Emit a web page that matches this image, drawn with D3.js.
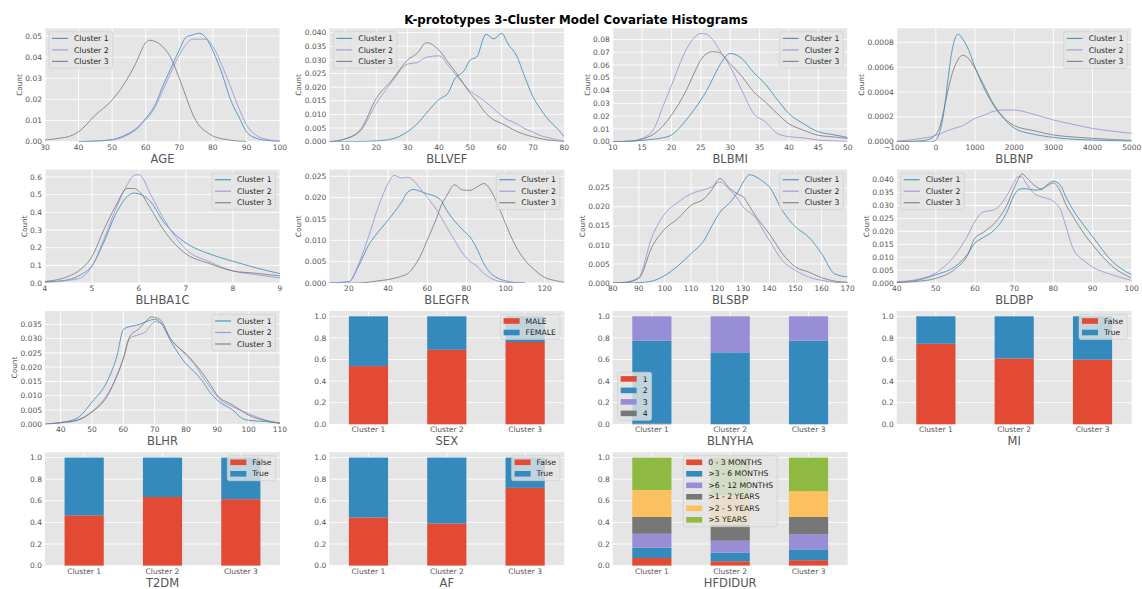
<!DOCTYPE html>
<html><head><meta charset="utf-8">
<script src="https://cdn.jsdelivr.net/npm/d3@7"></script>
<style>body{margin:0;background:#fff;} text{font-family:"DejaVu Sans",sans-serif;}</style>
</head><body><svg id="c" width="1142" height="589"></svg>
<script>
const clusters = ["Cluster 1", "Cluster 2", "Cluster 3"];
const lineColors = ["#348ABD", "#988ED5", "#777777"];
const barColors = ["#E24A33", "#348ABD", "#988ED5", "#777777", "#FBC15E", "#8EBA42"];

// ---------- KDE data ----------
const AGE_x  = [30,35,37,40,45,50,55,57,60,61,63,65,67,70,72,74,76,78,80,83,85,88,90,93,95,100];
const AGE_c1 = [null,null,null,0,0.0003,0.001,0.004,0.006,0.011,0.013,0.018,0.026,0.033,0.0434,0.0494,0.0505,0.0513,0.049,0.043,0.031,0.021,0.011,0.0047,0.0016,0.0008,0.0002];
const AGE_c2 = [null,null,null,0,0.0003,0.0008,0.0035,0.0055,0.0105,0.012,0.017,0.024,0.031,0.041,0.046,0.0485,0.0485,0.0485,0.045,0.035,0.027,0.015,0.008,0.003,0.0015,0.0003];
const AGE_c3 = [0.0008,0.0018,0.0024,0.0047,0.0126,0.0197,0.031,0.037,0.0468,0.048,0.0473,0.045,0.041,0.030,0.0213,0.013,0.0075,0.0047,0.0027,0.0013,0.0008,0.0002,0.0001,null,null,null];
const AGE_xt = [30,40,50,60,70,80,90,100];
const AGE_yt = [0,0.01,0.02,0.03,0.04,0.05];

const BLLVEF_x  = [5,10,15,20,25,30,33,36,40,43,45,48,50,52,55,57.5,60,62,65,67,70,73,75,78,80];
const BLLVEF_c1 = [0,0,0.0001,0.0003,0.001,0.0037,0.0065,0.0105,0.0155,0.018,0.023,0.026,0.030,0.031,0.0394,0.0377,0.0398,0.036,0.031,0.025,0.0165,0.011,0.008,0.0045,0.0018];
const BLLVEF_c2 = [0,0.001,0.004,0.014,0.022,0.0285,0.029,0.031,0.0315,0.028,0.025,0.021,0.0185,0.017,0.0145,0.012,0.0095,0.008,0.0065,0.005,0.0035,0.002,0.0015,0.0006,0.0003];
const BLLVEF_c3 = [0,0.001,0.0045,0.0159,0.0226,0.030,0.0324,0.0363,0.0336,0.029,0.026,0.021,0.0177,0.015,0.0104,0.008,0.0067,0.0055,0.0037,0.0028,0.0018,0.001,0.0006,0.0002,0];
const BLLVEF_xt = [10,20,30,40,50,60,70,80];
const BLLVEF_yt = [0,0.005,0.01,0.015,0.02,0.025,0.03,0.035,0.04];

const BLBMI_x  = [10,13,15,17,18.5,20,22.5,24,25,26,27,28,30,32,34,36,38,40,42.5,45,47.5,50];
const BLBMI_c1 = [0,0.0002,0.001,0.002,0.003,0.0052,0.017,0.026,0.0326,0.040,0.049,0.058,0.069,0.065,0.054,0.045,0.033,0.022,0.014,0.0078,0.0055,0.0034];
const BLBMI_c2 = [0,0.0005,0.0026,0.010,0.027,0.044,0.072,0.082,0.0847,0.084,0.080,0.073,0.0586,0.040,0.022,0.0156,0.0065,0.0039,0.003,0.0013,0.0006,0.0002];
const BLBMI_c3 = [0,0.0005,0.002,0.006,0.012,0.0208,0.040,0.055,0.064,0.069,0.0704,0.070,0.061,0.051,0.039,0.031,0.022,0.014,0.009,0.005,0.0038,0.0025];
const BLBMI_xt = [10,15,20,25,30,35,40,45,50];
const BLBMI_yt = [0,0.01,0.02,0.03,0.04,0.05,0.06,0.07,0.08];

const BLBNP_x  = [-1000,-500,-300,-100,0,100,200,300,400,500,550,600,700,800,1000,1200,1500,1750,2000,2500,3000,3500,4000,4500,5000];
const BLBNP_c1 = [0,0,0,0,0.000013,0.00008,0.00023,0.00048,0.00071,0.00084,0.000865,0.00086,0.00082,0.000765,0.0006,0.00045,0.00028,0.00018,0.00011,0.00006,0.000035,0.00002,0.000013,0.000008,0.000005];
const BLBNP_c2 = [0.000005,0.00002,0.00003,0.00004,0.000054,0.00006,0.000075,0.00009,0.0001,0.00011,0.000115,0.00012,0.00013,0.00015,0.000188,0.00021,0.000247,0.000255,0.000255,0.00022,0.000175,0.00014,0.000107,0.000085,0.000067];
const BLBNP_c3 = [0,0.000005,0.00001,0.00003,0.00006,0.00012,0.00025,0.0004,0.00053,0.00062,0.00065,0.00068,0.000695,0.00068,0.00059,0.00047,0.00029,0.00019,0.00013,0.000089,0.000054,0.000038,0.000027,0.000018,0.00001];
const BLBNP_xt = [-1000,0,1000,2000,3000,4000,5000];
const BLBNP_yt = [0,0.0002,0.0004,0.0006,0.0008];

const BLHBA1C_x  = [4,4.25,4.5,4.75,5,5.25,5.5,5.75,5.9,6,6.25,6.5,6.75,7,7.5,8,8.5,9];
const BLHBA1C_c1 = [0.006,0.01,0.019,0.045,0.098,0.23,0.387,0.49,0.509,0.505,0.46,0.355,0.28,0.226,0.165,0.123,0.085,0.053];
const BLHBA1C_c2 = [0.005,0.008,0.015,0.028,0.094,0.245,0.415,0.557,0.61,0.613,0.50,0.375,0.27,0.19,0.12,0.068,0.047,0.028];
const BLHBA1C_c3 = [0.009,0.018,0.038,0.075,0.15,0.30,0.434,0.535,0.535,0.519,0.42,0.31,0.225,0.165,0.11,0.068,0.055,0.04];
const BLHBA1C_xt = [4,5,6,7,8,9];
const BLHBA1C_yt = [0,0.1,0.2,0.3,0.4,0.5,0.6];

const BLEGFR_x  = [10,20,25,30,35,40,43,47,50,53,57,60,65,67,70,74,78,82,85,89,92,95,100,105,110,115,120,125,130];
const BLEGFR_c1 = [0,0.0003,0.004,0.0088,0.012,0.0147,0.0165,0.019,0.0213,0.0219,0.0214,0.0209,0.0201,0.0194,0.017,0.0145,0.0125,0.0107,0.0084,0.0045,0.0025,0.0014,0.0005,0.0001,0,null,null,null,null];
const BLEGFR_c2 = [0,0.0003,0.0045,0.0108,0.0178,0.0233,0.0252,0.0246,0.0248,0.0240,0.0218,0.0201,0.017,0.0155,0.0131,0.010,0.007,0.005,0.0041,0.0022,0.0013,0.0006,0.0002,0.0001,0,null,null,null,null];
const BLEGFR_c3 = [null,0,0,0.0002,0.0005,0.0008,0.0011,0.0016,0.0022,0.0037,0.0068,0.010,0.0155,0.018,0.0205,0.023,0.0218,0.0217,0.0224,0.0233,0.022,0.0194,0.0139,0.0088,0.0053,0.003,0.0013,0.0006,0.0002];
const BLEGFR_xt = [20,40,60,80,100,120];
const BLEGFR_yt = [0,0.005,0.01,0.015,0.02,0.025];

const BLSBP_x  = [80,85,90,95,100,105,110,115,118,121,125,128,130,132.5,135,137,140,145,150,155,160,165,170];
const BLSBP_c1 = [0,0,0.0001,0.0005,0.002,0.0045,0.0077,0.0112,0.015,0.0185,0.0212,0.024,0.0265,0.0284,0.0278,0.0269,0.0252,0.019,0.0147,0.0121,0.0077,0.0024,0.0016];
const BLSBP_c2 = [0,0.0002,0.0015,0.012,0.0182,0.0212,0.0234,0.0245,0.0252,0.0265,0.0243,0.022,0.0199,0.0185,0.0169,0.0145,0.0112,0.0059,0.0033,0.0016,0.0007,0.0002,0];
const BLSBP_c3 = [0,0.0002,0.0012,0.0094,0.0142,0.0169,0.0204,0.0221,0.0245,0.0274,0.0247,0.0233,0.0226,0.020,0.0173,0.0155,0.0129,0.0077,0.0042,0.0029,0.0014,0.0005,0.0002];
const BLSBP_xt = [80,90,100,110,120,130,140,150,160,170];
const BLSBP_yt = [0,0.005,0.01,0.015,0.02,0.025];

const BLDBP_x  = [40,45,50,55,58,60,62,65,68,70,71,72,73,75,77,78,80,82,83,85,88,90,95,100];
const BLDBP_c1 = [0.0003,0.001,0.0032,0.0065,0.011,0.0155,0.0175,0.0206,0.027,0.034,0.036,0.0365,0.0365,0.036,0.0362,0.0375,0.0394,0.0374,0.034,0.0284,0.0219,0.018,0.0084,0.0032];
const BLDBP_c2 = [0.0005,0.0013,0.0039,0.011,0.018,0.0239,0.0274,0.0284,0.0335,0.039,0.0413,0.041,0.0387,0.0348,0.0333,0.0329,0.0316,0.0277,0.023,0.0135,0.0084,0.0062,0.0032,0.001];
const BLDBP_c3 = [0.0002,0.0006,0.0018,0.0055,0.0105,0.0174,0.0195,0.0232,0.0297,0.0368,0.040,0.0423,0.041,0.038,0.0364,0.0372,0.0387,0.0348,0.031,0.0258,0.0187,0.0148,0.0065,0.0019];
const BLDBP_xt = [40,50,60,70,80,90,100];
const BLDBP_yt = [0,0.005,0.01,0.015,0.02,0.025,0.03,0.035,0.04];

const BLHR_x  = [35,40,45,50,55,58,60,62,65,67,69,70,72,75,78,80,83,85,88,90,95,98,100,105,110];
const BLHR_c1 = [0,0.0006,0.002,0.0078,0.0154,0.0241,0.0332,0.0342,0.0349,0.0358,0.0366,0.0367,0.0355,0.0294,0.0241,0.0212,0.018,0.0154,0.0107,0.0084,0.0049,0.002,0.0014,0.001,0.0004];
const BLHR_c2 = [0,0.0005,0.0012,0.0045,0.0107,0.0171,0.023,0.030,0.0314,0.0323,0.035,0.036,0.0352,0.030,0.0265,0.0241,0.0206,0.0171,0.0125,0.0096,0.0061,0.0046,0.0037,0.0016,0.0004];
const BLHR_c3 = [0,0.0006,0.0014,0.0043,0.0101,0.0171,0.023,0.0306,0.0335,0.0358,0.0376,0.0374,0.0364,0.030,0.0265,0.0247,0.021,0.0183,0.0135,0.0102,0.0067,0.0045,0.0032,0.0014,0.0004];
const BLHR_xt = [40,50,60,70,80,90,100,110];
const BLHR_yt = [0,0.005,0.01,0.015,0.02,0.025,0.03,0.035];

// ---------- stacked bar data (proportions per cluster) ----------
const BAR_yt = [0,0.2,0.4,0.6,0.8,1.0];
const SEX_labels = ["MALE", "FEMALE"];
const SEX_MALE   = [0.539, 0.69, 0.762];
const SEX_FEMALE = [0.461, 0.31, 0.238];
const BLNYHA_labels = ["1", "2", "3", "4"];
const BLNYHA_1 = [0.005, 0, 0];
const BLNYHA_2 = [0.769, 0.666, 0.774];
const BLNYHA_3 = [0.226, 0.331, 0.226];
const BLNYHA_4 = [0, 0.003, 0];
const MI_labels = ["False", "True"];
const MI_False = [0.746, 0.61, 0.598];
const MI_True  = [0.254, 0.39, 0.402];
const T2DM_labels = ["False", "True"];
const T2DM_False = [0.465, 0.635, 0.615];
const T2DM_True  = [0.535, 0.365, 0.385];
const AF_labels = ["False", "True"];
const AF_False = [0.445, 0.39, 0.72];
const AF_True  = [0.555, 0.61, 0.28];
const HFDIDUR_labels = ["0 - 3 MONTHS", ">3 - 6 MONTHS", ">6 - 12 MONTHS", ">1 - 2 YEARS", ">2 - 5 YEARS", ">5 YEARS"];
const HFDIDUR_0_3M  = [0.07, 0.04, 0.05];
const HFDIDUR_3_6M  = [0.095, 0.08, 0.10];
const HFDIDUR_6_12M = [0.13, 0.11, 0.14];
const HFDIDUR_1_2Y  = [0.155, 0.15, 0.16];
const HFDIDUR_2_5Y  = [0.25, 0.27, 0.24];
const HFDIDUR_5Y    = [0.30, 0.35, 0.31];

// ---------- layout ----------
const colLeft = [45, 329.3, 612.7, 896.7];
const rowTop = [28.3, 169.6, 310.9, 452.2];
const PW = 235, PH = 113.4;
const TICK_FS = 7.5, LEG_FS = 7.7, XLAB_FS = 11.5, YLAB_FS = 7.3;

const svg = d3.select("#c");
svg.append("rect").attr("width", 1142).attr("height", 589).attr("fill", "#fff");
svg.append("text").attr("x", 576).attr("y", 24).attr("text-anchor", "middle")
  .attr("font-size", 11.8).attr("font-weight", "bold").attr("fill", "#000")
  .text("K-prototypes 3-Cluster Model Covariate Histograms");

const kdePanels = [
  {name:"AGE", x:AGE_x, ys:[AGE_c1,AGE_c2,AGE_c3], xd:[30,100], ymax:0.05364, xt:AGE_xt, yt:AGE_yt, fmt:".2f", leg:"ul"},
  {name:"BLLVEF", x:BLLVEF_x, ys:[BLLVEF_c1,BLLVEF_c2,BLLVEF_c3], xd:[5,80], ymax:0.0416, xt:BLLVEF_xt, yt:BLLVEF_yt, fmt:".3f", leg:"ul"},
  {name:"BLBMI", x:BLBMI_x, ys:[BLBMI_c1,BLBMI_c2,BLBMI_c3], xd:[10,50], ymax:0.0887, xt:BLBMI_xt, yt:BLBMI_yt, fmt:".2f", leg:"ur"},
  {name:"BLBNP", x:BLBNP_x, ys:[BLBNP_c1,BLBNP_c2,BLBNP_c3], xd:[-1000,5000], ymax:0.000913, xt:BLBNP_xt, yt:BLBNP_yt, fmt:".4f", leg:"ur"},
  {name:"BLHBA1C", x:BLHBA1C_x, ys:[BLHBA1C_c1,BLHBA1C_c2,BLHBA1C_c3], xd:[4,9], ymax:0.642, xt:BLHBA1C_xt, yt:BLHBA1C_yt, fmt:".1f", leg:"ur"},
  {name:"BLEGFR", x:BLEGFR_x, ys:[BLEGFR_c1,BLEGFR_c2,BLEGFR_c3], xd:[10,130], ymax:0.02657, xt:BLEGFR_xt, yt:BLEGFR_yt, fmt:".3f", leg:"ur"},
  {name:"BLSBP", x:BLSBP_x, ys:[BLSBP_c1,BLSBP_c2,BLSBP_c3], xd:[80,170], ymax:0.02975, xt:BLSBP_xt, yt:BLSBP_yt, fmt:".3f", leg:"ur"},
  {name:"BLDBP", x:BLDBP_x, ys:[BLDBP_c1,BLDBP_c2,BLDBP_c3], xd:[40,100], ymax:0.0439, xt:BLDBP_xt, yt:BLDBP_yt, fmt:".3f", leg:"ul"},
  {name:"BLHR", x:BLHR_x, ys:[BLHR_c1,BLHR_c2,BLHR_c3], xd:[35,110], ymax:0.0397, xt:BLHR_xt, yt:BLHR_yt, fmt:".3f", leg:"ur"}
];
const barPanels = [
  {name:"SEX", labels:SEX_labels, vals:[SEX_MALE, SEX_FEMALE], leg:"ur"},
  {name:"BLNYHA", labels:BLNYHA_labels, vals:[BLNYHA_1,BLNYHA_2,BLNYHA_3,BLNYHA_4], leg:"ll"},
  {name:"MI", labels:MI_labels, vals:[MI_False, MI_True], leg:"ur"},
  {name:"T2DM", labels:T2DM_labels, vals:[T2DM_False, T2DM_True], leg:"ur"},
  {name:"AF", labels:AF_labels, vals:[AF_False, AF_True], leg:"ur"},
  {name:"HFDIDUR", labels:HFDIDUR_labels, vals:[HFDIDUR_0_3M,HFDIDUR_3_6M,HFDIDUR_6_12M,HFDIDUR_1_2Y,HFDIDUR_2_5Y,HFDIDUR_5Y], leg:"uc"}
];

function measure(txt, fs) {
  const t = svg.append("text").attr("font-size", fs).text(txt);
  const w = t.node().getComputedTextLength(); t.remove(); return w;
}
function fmtTick(f, v) { return d3.format(f)(v).replace("-", "\u2212"); }

function frame(idx) {
  const r = Math.floor(idx / 4), c = idx % 4;
  const L = colLeft[c], T = rowTop[r];
  const g = svg.append("g");
  g.append("rect").attr("x", L).attr("y", T).attr("width", PW).attr("height", PH).attr("fill", "#E5E5E5");
  return {g, L, T, R: L + PW, B: T + PH};
}

function yAxisTicks(f, y, ticks, fmt, withLabel) {
  let maxW = 0;
  ticks.forEach(v => {
    const s = fmtTick(fmt, v);
    f.g.append("line").attr("x1", f.L).attr("x2", f.R).attr("y1", y(v)).attr("y2", y(v))
      .attr("stroke", "#fff").attr("stroke-width", 0.9);
    const t = f.g.append("text").attr("x", f.L - 3).attr("y", y(v)).attr("dy", "0.35em")
      .attr("text-anchor", "end").attr("font-size", TICK_FS).attr("fill", "#555").text(s);
    maxW = Math.max(maxW, t.node().getComputedTextLength());
  });
  if (withLabel) {
    const cx = f.L - 3 - maxW - 6, cy = (f.T + f.B) / 2;
    f.g.append("text").attr("transform", `translate(${cx},${cy}) rotate(-90)`).attr("dy", "0.35em")
      .attr("text-anchor", "middle").attr("font-size", YLAB_FS).attr("fill", "#555").text("Count");
  }
}

function legend(f, items, loc, kind) {
  const textW = d3.max(items, d => measure(d.label, LEG_FS));
  const w = 25 + textW + 4, rowH = 11.5, h = rowH * items.length + 2;
  let x, y;
  if (loc === "ul") { x = f.L + 4; y = f.T + 3.5; }
  else if (loc === "ur") { x = f.R - 4.4 - w; y = f.T + 3.5; }
  else if (loc === "ll") { x = f.L + 5; y = f.B - 4 - h; }
  else { x = (f.L + f.R) / 2 - w / 2; y = f.T + 3.5; }
  const lg = f.g.append("g");
  lg.append("rect").attr("x", x).attr("y", y).attr("width", w).attr("height", h).attr("rx", 2)
    .attr("fill", "#E5E5E5").attr("fill-opacity", 0.8).attr("stroke", "#cccccc").attr("stroke-opacity", 0.8).attr("stroke-width", 0.8);
  items.forEach((d, i) => {
    const cy = y + 6.6 + rowH * i;
    if (kind === "line") {
      lg.append("line").attr("x1", x + 3).attr("x2", x + 19).attr("y1", cy).attr("y2", cy)
        .attr("stroke", d.color).attr("stroke-width", 1.2).attr("stroke-opacity", 0.85);
    } else {
      lg.append("rect").attr("x", x + 3).attr("y", cy - 2.8).attr("width", 16).attr("height", 5.6).attr("fill", d.color);
    }
    lg.append("text").attr("x", x + 25).attr("y", cy).attr("dy", "0.35em").attr("font-size", LEG_FS)
      .attr("fill", "#222").text(d.label);
  });
}

kdePanels.forEach((p, idx) => {
  const f = frame(idx);
  const x = d3.scaleLinear().domain(p.xd).range([f.L, f.R]);
  const y = d3.scaleLinear().domain([0, p.ymax]).range([f.B, f.T]);
  p.xt.forEach(v => {
    f.g.append("line").attr("x1", x(v)).attr("x2", x(v)).attr("y1", f.T).attr("y2", f.B)
      .attr("stroke", "#fff").attr("stroke-width", 0.9);
    f.g.append("text").attr("x", x(v)).attr("y", f.B + 8).attr("text-anchor", "middle")
      .attr("font-size", TICK_FS).attr("fill", "#555").text(fmtTick("d", v));
  });
  yAxisTicks(f, y, p.yt, p.fmt, true);
  const clipId = "clip" + idx;
  f.g.append("clipPath").attr("id", clipId).append("rect").attr("x", f.L).attr("y", f.T).attr("width", PW).attr("height", PH);
  const line = d3.line().defined(d => d[1] != null).x(d => x(d[0])).y(d => y(d[1])).curve(d3.curveMonotoneX);
  p.ys.forEach((ys, k) => {
    const pts = p.x.map((xv, i) => [xv, ys[i]]);
    f.g.append("path").attr("clip-path", `url(#${clipId})`).attr("d", line(pts))
      .attr("fill", "none").attr("stroke", lineColors[k]).attr("stroke-width", 0.95).attr("stroke-opacity", 0.85);
  });
  f.g.append("text").attr("x", (f.L + f.R) / 2).attr("y", f.B + 21).attr("text-anchor", "middle")
    .attr("font-size", XLAB_FS).attr("fill", "#555").text(p.name);
  legend(f, clusters.map((c, k) => ({label: c, color: lineColors[k]})), p.leg, "line");
});

barPanels.forEach((p, j) => {
  const f = frame(9 + j);
  const x = d3.scaleLinear().domain([-0.5, 2.5]).range([f.L, f.R]);
  const y = d3.scaleLinear().domain([0, 1.05]).range([f.B, f.T]);
  clusters.forEach((c, i) => {
    f.g.append("line").attr("x1", x(i)).attr("x2", x(i)).attr("y1", f.T).attr("y2", f.B)
      .attr("stroke", "#fff").attr("stroke-width", 0.9);
    f.g.append("text").attr("x", x(i)).attr("y", f.B + 8).attr("text-anchor", "middle")
      .attr("font-size", TICK_FS).attr("fill", "#555").text(c);
  });
  yAxisTicks(f, y, BAR_yt, ".1f", false);
  const rows = clusters.map((c, i) => { const o = {}; p.labels.forEach((l, k) => o[l] = p.vals[k][i]); return o; });
  const stack = d3.stack().keys(p.labels)(rows);
  stack.forEach((s, k) => {
    s.forEach((d, i) => {
      if (d[1] - d[0] <= 0) return;
      f.g.append("rect").attr("x", x(i - 0.25)).attr("width", x(0.25) - x(-0.25))
        .attr("y", y(d[1])).attr("height", y(d[0]) - y(d[1])).attr("fill", barColors[k]);
    });
  });
  f.g.append("text").attr("x", (f.L + f.R) / 2).attr("y", f.B + 21).attr("text-anchor", "middle")
    .attr("font-size", XLAB_FS).attr("fill", "#555").text(p.name);
  legend(f, p.labels.map((l, k) => ({label: l, color: barColors[k]})), p.leg, "patch");
});
</script></body></html>
